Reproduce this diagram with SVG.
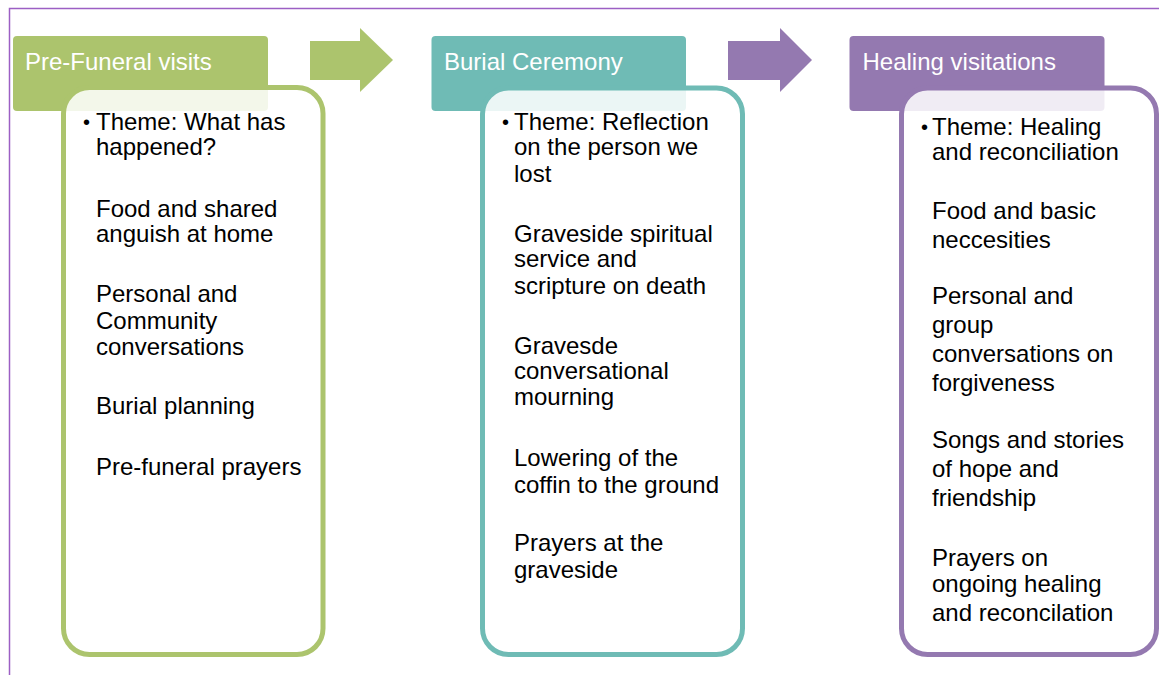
<svg xmlns="http://www.w3.org/2000/svg" width="1159" height="675" viewBox="0 0 1159 675">
  <style>
    .frame { fill: none; stroke: #9c5fc4; stroke-width: 1.5; }
    .hdr { stroke: none; }
    .hdr-text { font-family: "Liberation Sans", Arial, sans-serif; font-size: 24px; fill: #ffffff; }
    .card { fill: #ffffff; fill-opacity: 0.86; stroke-width: 5; }
    .body { font-family: "Liberation Sans", Arial, sans-serif; font-size: 24px; fill: #000000; }
    .bullet { font-family: "Liberation Sans", Arial, sans-serif; font-size: 20px; fill: #000000; }
    .green { fill: #acc46d; }
    .teal { fill: #6fbbb5; }
    .purple { fill: #9479b0; }
  </style>

  <!-- outer frame lines -->
  <path class="frame" d="M9.5,675 V8.5 H1159"/>

  <!-- step connectors -->
  <g id="connectors">
    <path class="green" d="M310,41 H360 V28 L393,60 L360,92 V80 H310 Z"/>
    <path class="purple" d="M728,41 H780 V28 L812,60 L780,92 V80 H728 Z"/>
  </g>

  <!-- stage 1 -->
  <g id="pre-funeral">
    <rect class="hdr green" x="13" y="36" width="255" height="75" rx="4"/>
    <text class="hdr-text" x="25" y="70">Pre-Funeral visits</text>
    <rect class="card" x="63.5" y="87.5" width="259.5" height="567" rx="26" stroke="#acc46d"/>
    <text class="bullet" x="83" y="129">•</text>
    <text class="body">
      <tspan x="96" y="130">Theme: What has</tspan>
      <tspan x="96" y="155">happened?</tspan>
      <tspan x="96" y="217">Food and shared</tspan>
      <tspan x="96" y="242">anguish at home</tspan>
      <tspan x="96" y="302">Personal and</tspan>
      <tspan x="96" y="329">Community</tspan>
      <tspan x="96" y="355">conversations</tspan>
      <tspan x="96" y="414">Burial planning</tspan>
      <tspan x="96" y="475">Pre-funeral prayers</tspan>
    </text>
  </g>

  <!-- stage 2 -->
  <g id="burial">
    <rect class="hdr teal" x="431.5" y="36" width="254.5" height="75" rx="4"/>
    <text class="hdr-text" x="444" y="70">Burial Ceremony</text>
    <rect class="card" x="482.5" y="88" width="260" height="566.5" rx="26" stroke="#6fbbb5"/>
    <text class="bullet" x="502" y="129">•</text>
    <text class="body">
      <tspan x="514" y="130">Theme: Reflection</tspan>
      <tspan x="514" y="155">on the person we</tspan>
      <tspan x="514" y="182">lost</tspan>
      <tspan x="514" y="242">Graveside spiritual</tspan>
      <tspan x="514" y="267">service and</tspan>
      <tspan x="514" y="294">scripture on death</tspan>
      <tspan x="514" y="354">Gravesde</tspan>
      <tspan x="514" y="379">conversational</tspan>
      <tspan x="514" y="405">mourning</tspan>
      <tspan x="514" y="466">Lowering of the</tspan>
      <tspan x="514" y="493">coffin to the ground</tspan>
      <tspan x="514" y="551">Prayers at the</tspan>
      <tspan x="514" y="578">graveside</tspan>
    </text>
  </g>

  <!-- stage 3 -->
  <g id="healing">
    <rect class="hdr purple" x="849.5" y="36" width="255" height="75" rx="4"/>
    <text class="hdr-text" x="862.5" y="70">Healing visitations</text>
    <rect class="card" x="901.5" y="88" width="255" height="566.5" rx="26" stroke="#9479b0"/>
    <text class="bullet" x="921" y="134">•</text>
    <text class="body">
      <tspan x="932" y="135">Theme: Healing</tspan>
      <tspan x="932" y="160">and reconciliation</tspan>
      <tspan x="932" y="219">Food and basic</tspan>
      <tspan x="932" y="248">neccesities</tspan>
      <tspan x="932" y="304">Personal and</tspan>
      <tspan x="932" y="333">group</tspan>
      <tspan x="932" y="362">conversations on</tspan>
      <tspan x="932" y="391">forgiveness</tspan>
      <tspan x="932" y="448">Songs and stories</tspan>
      <tspan x="932" y="477">of hope and</tspan>
      <tspan x="932" y="506">friendship</tspan>
      <tspan x="932" y="566">Prayers on</tspan>
      <tspan x="932" y="592">ongoing healing</tspan>
      <tspan x="932" y="621">and reconcilation</tspan>
    </text>
  </g>
</svg>
